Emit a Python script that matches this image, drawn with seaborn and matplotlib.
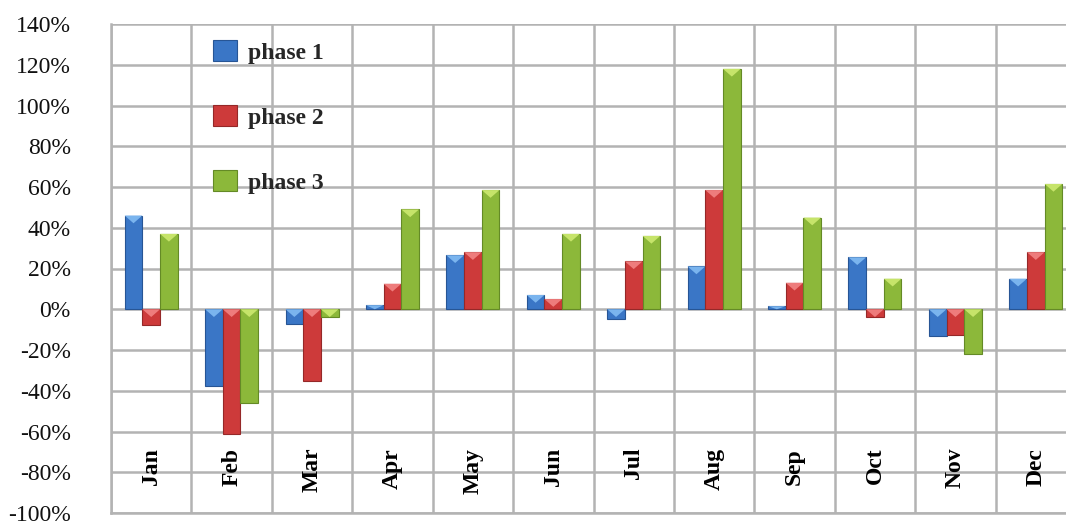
import numpy as np
import pandas as pd
import matplotlib
matplotlib.use("Agg")
import matplotlib.pyplot as plt
from matplotlib.patches import Patch, Polygon
from matplotlib.ticker import FixedLocator, FuncFormatter
import seaborn as sns

# Monthly change per phase, in percent
months = ["Jan", "Feb", "Mar", "Apr", "May", "Jun",
          "Jul", "Aug", "Sep", "Oct", "Nov", "Dec"]
phase_names = ["phase 1", "phase 2", "phase 3"]
phase1 = [46, -37.5, -7, 2, 26.5, 7, -5, 21, 1.5, 25.5, -13, 15]
phase2 = [-7.5, -61, -35, 12.5, 28, 5, 23.5, 58.5, 13, -4, -12.5, 28]
phase3 = [37, -46, -4, 49, 58.5, 37, 36, 118, 45, 15, -22, 61.5]
y_ticks = list(range(-100, 141, 20))

face_colors = ["#3a76c6", "#cd3a3a", "#8cb83a"]
edge_colors = ["#275595", "#952828", "#648a26"]
cap_colors = ["#7ab4ee", "#ee7c7c", "#c6e46a"]

df = pd.DataFrame({
    "month": months * 3,
    "value": phase1 + phase2 + phase3,
    "phase": [p for p in phase_names for _ in months],
})

sns.set_style("white")
plt.rcParams["font.family"] = ["Liberation Serif", "DejaVu Serif"]

W, H = 1066, 526
fig = plt.figure(figsize=(W / 100, H / 100), dpi=100)
left_px, right_px, top_px, bottom_px = 111, 1076, 24, 513
ax = fig.add_axes([left_px / W, 1 - bottom_px / H,
                   (right_px - left_px) / W, (bottom_px - top_px) / H])

sns.barplot(data=df, x="month", y="value", hue="phase", order=months,
            hue_order=phase_names, palette=face_colors, width=0.66,
            saturation=1, ax=ax, legend=False, zorder=3)

# Bevelled look: darker outline and a light triangular cap on every bar
grid_col = "#b3b3b3"
for k, container in enumerate(ax.containers):
    for bar in container:
        bar.set_edgecolor(edge_colors[k])
        bar.set_linewidth(0.8)
        x0 = bar.get_x()
        w = bar.get_width()
        y0 = bar.get_y()
        h = bar.get_height()
        top = max(y0, y0 + h)
        depth = min(3.8, abs(h))
        tri = Polygon([[x0, top], [x0 + w, top], [x0 + w / 2, top - depth]],
                      closed=True, facecolor=cap_colors[k],
                      edgecolor="none", zorder=4)
        ax.add_patch(tri)

ax.set_ylim(-100, 140)
ax.set_xlim(-0.5, len(months) - 0.5)
ax.yaxis.set_major_locator(FixedLocator(y_ticks))
ax.yaxis.set_major_formatter(FuncFormatter(lambda v, _: f"{int(v)}%"))
ax.set_xticks([])
ax.xaxis.set_minor_locator(FixedLocator(np.arange(-0.5, len(months), 1.0)))
ax.grid(True, axis="y", which="major", color=grid_col, lw=1.8, zorder=0)
ax.grid(True, axis="x", which="minor", color=grid_col, lw=1.8, zorder=0)
ax.set_axisbelow(True)
ax.tick_params(axis="y", length=10, width=1.8, color=grid_col, pad=19,
               labelsize=17, labelcolor="#111111")
ax.tick_params(axis="x", which="both", length=0)
ax.set_xlabel("")
ax.set_ylabel("")
for side in ["top", "right"]:
    ax.spines[side].set_visible(False)
for side in ["left", "bottom"]:
    ax.spines[side].set_color(grid_col)
    ax.spines[side].set_linewidth(1.8)

# Month names inside the plot, rotated
for i, m in enumerate(months):
    ax.text(i, -68, m, rotation=90, ha="center", va="top",
            fontsize=17, fontweight="bold", color="#000000", zorder=5)

handles = [Patch(facecolor=face_colors[k], edgecolor=edge_colors[k], lw=0.8)
           for k in range(3)]
fig.legend(handles, phase_names, loc="upper left",
           bbox_to_anchor=(213 / W, 1 - 40 / H), frameon=False,
           prop={"size": 17, "weight": "bold"}, handlelength=1.0,
           handleheight=1.0, handletextpad=0.5, labelspacing=1.75,
           borderpad=0, borderaxespad=0)

fig.savefig("out.png", dpi=100)
